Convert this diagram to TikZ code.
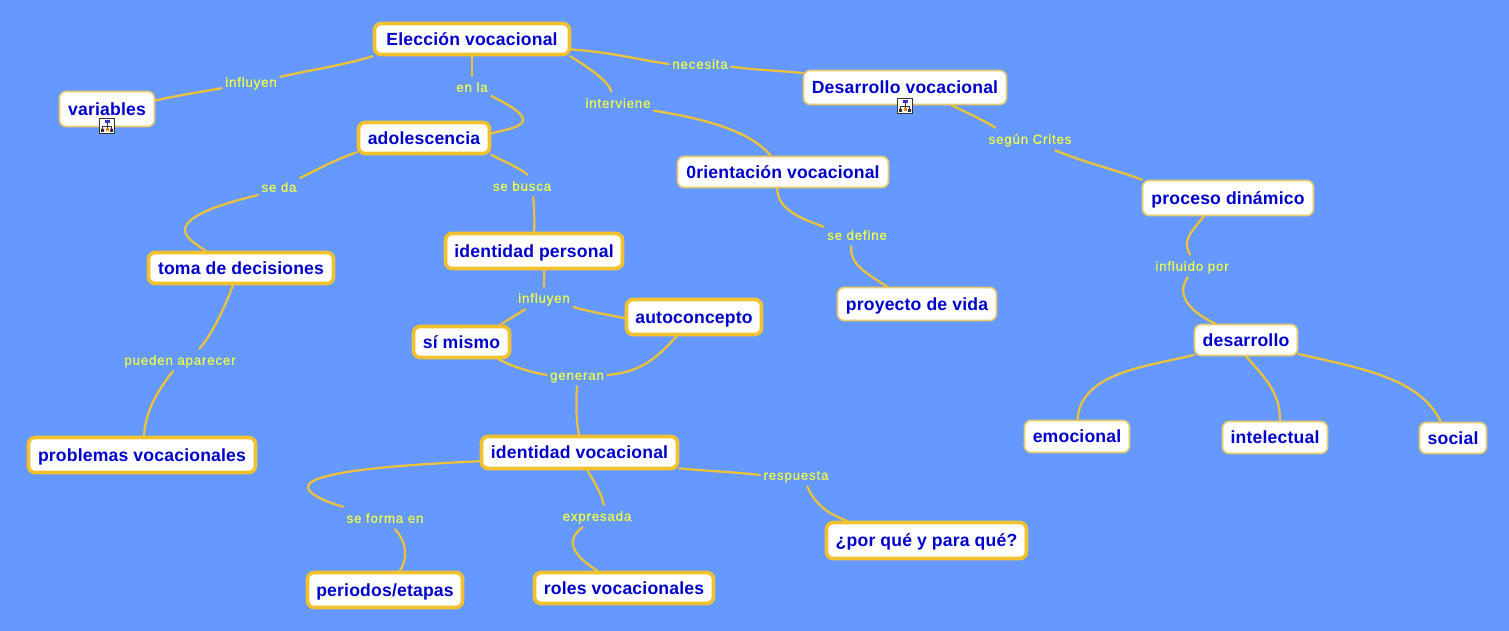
\documentclass[tikz,border=0pt]{standalone}
\usepackage{fontspec}
\setmainfont{Liberation Sans}
\newfontfamily\conceptfont[LetterSpace=1]{Liberation Sans Bold}
\newfontfamily\linkfont[LetterSpace=6,FakeBold=0.25]{Liberation Sans}
\definecolor{bgblue}{HTML}{6699FF}
\definecolor{gold}{HTML}{F2C12E}
\definecolor{palegold}{HTML}{E8CB6A}
\definecolor{linkgold}{HTML}{EBC23A}
\definecolor{inkblue}{HTML}{0000CC}
\definecolor{linkyellow}{HTML}{EEFF44}
\tikzset{
  x=0.75pt,y=-0.75pt,
  sz/.style 2 args={minimum width=#1*0.75pt,minimum height=#2*0.75pt},
  concept/.style={rectangle,rounded corners=5pt,fill=white,text=inkblue,inner sep=0pt,
    text height=9.5pt,text depth=0pt,
    font=\conceptfont\fontsize{13.2pt}{15pt}\selectfont},
  heavy/.style={concept,draw=gold,line width=2.7pt},
  light/.style={concept,draw=palegold,line width=1.2pt},
  linklabel/.style={rectangle,inner xsep=2.5pt,inner ysep=0pt,minimum height=16.5pt,text=linkyellow,
    text height=7.2pt,text depth=0pt,
    font=\linkfont\fontsize{10pt}{11pt}\selectfont},
  link/.style={draw=linkgold,line width=1.7pt,line cap=round},
  hicon/.pic={
    \draw[fill=white,draw=black!80,line width=0.7pt] (-7.5,-7.5) rectangle (7.5,7.5);
    \draw[black!80,line width=0.6pt] (0,-3) -- (0,4) (-4.5,0) -- (4.5,0) (-4.5,0) -- (-4.5,4) (4.5,0) -- (4.5,4);
    \fill[blue!60!gray] (-2.5,-5.5) rectangle (2.5,-2.5);
    \fill[black!80] (-6,3) rectangle (-3,6) (3,3) rectangle (6,6);
    \fill[orange] (-1.5,2.5) rectangle (1.5,5.5);
  }
}
\begin{document}
\begin{tikzpicture}
\useasboundingbox[fill=bgblue] (0,0) rectangle (1509,631);
% concepts
\node[heavy,sz={195}{31}] (elec) at (472,39) {Elección vocacional};
\node[light,sz={95}{35}] (vari) at (107,109) {variables};
\node[heavy,sz={131}{31}] (adol) at (424,138) {adolescencia};
\node[light,sz={203}{34}] (desa) at (905,87.5) {Desarrollo vocacional};
\node[light,sz={211}{31}] (orie) at (783,172) {0rientación vocacional};
\node[light,sz={171}{35}] (proc) at (1228,198) {proceso dinámico};
\node[heavy,sz={185}{31}] (toma) at (241,268) {toma de decisiones};
\node[heavy,sz={177}{35}] (idpe) at (534,251) {identidad personal};
\node[heavy,sz={135}{35}] (auto) at (694,317) {autoconcepto};
\node[heavy,sz={96}{31}] (simi) at (461.5,342) {sí mismo};
\node[light,sz={159}{33}] (proy) at (917,304) {proyecto de vida};
\node[light,sz={103}{31}] (desr) at (1246,340) {desarrollo};
\node[light,sz={105}{32}] (emoc) at (1077,436.5) {emocional};
\node[light,sz={105}{32}] (inte) at (1275,437.5) {intelectual};
\node[light,sz={67}{31}] (soci) at (1453,438) {social};
\node[heavy,sz={227}{35}] (prob) at (142,455) {problemas vocacionales};
\node[heavy,sz={196}{32}] (idvo) at (579.5,452.5) {identidad vocacional};
\node[heavy,sz={200}{36}] (porq) at (926.5,540.5) {¿por qué y para qué?};
\node[heavy,sz={155}{35}] (peri) at (385,590) {periodos/etapas};
\node[heavy,sz={179}{31}] (role) at (624,588) {roles vocacionales};
% icons
\pic at (107,126) {hicon};
\pic at (905,106) {hicon};
% link labels
\node[linklabel] (linf) at (251,82) {influyen};
\node[linklabel] (lenl) at (472,87) {en la};
\node[linklabel] (lint) at (618,103) {interviene};
\node[linklabel] (lnec) at (700,64) {necesita};
\node[linklabel] (lseg) at (1030,139) {según Crites};
\node[linklabel] (lflu) at (1192,266) {influido por};
\node[linklabel] (lsda) at (279,187) {se da};
\node[linklabel] (lbus) at (522,186) {se busca};
\node[linklabel] (lin2) at (544,298) {influyen};
\node[linklabel] (lgen) at (577,375) {generan};
\node[linklabel] (lsfo) at (385,518) {se forma en};
\node[linklabel] (lexp) at (597,516) {expresada};
\node[linklabel] (lres) at (796,475) {respuesta};
\node[linklabel] (lpue) at (180,360) {pueden aparecer};
\node[linklabel] (ldef) at (857,235) {se define};
% connectors
\path[link] (elec.south west) .. controls (340,66) and (310,70) .. (linf.10);
\path[link] (linf.192) .. controls (200,92) and (175,96) .. (vari.10);
\path[link] (elec.-90) -- (lenl.north);
\path[link] (lenl.-25) .. controls (505,103) and (523,112) .. (523,120) .. controls (523,127) and (505,130) .. (adol.4);
\path[link] (elec.-10.5) .. controls (585,65) and (610,82) .. (lint.121);
\path[link] (lint.-12) .. controls (700,118) and (750,130) .. (orie.127);
\path[link] (elec.-6) .. controls (610,52) and (640,60) .. (lnec.180);
\path[link] (lnec.-5) .. controls (755,70) and (785,71) .. (desa.172);
\path[link] (desa.-21) .. controls (968,113) and (985,121) .. (lseg.162);
\path[link] (lseg.-24) .. controls (1085,163) and (1120,171) .. (proc.168);
\path[link] (proc.-143) .. controls (1195,228) and (1187,235) .. (1187,244) .. controls (1187,249) and (1189,253) .. (lflu.100);
\path[link] (lflu.-110) .. controls (1178,290) and (1182,308) .. (desr.152);
\path[link] (desr.196) .. controls (1150,366) and (1080,372) .. (emoc.88);
\path[link] (desr.-90) .. controls (1265,378) and (1280,392) .. (inte.73);
\path[link] (desr.-15) .. controls (1360,368) and (1420,378) .. (soci.127);
\path[link] (adol.192) .. controls (335,160) and (320,168) .. (lsda.23);
\path[link] (lsda.201) .. controls (225,203) and (185,215) .. (185,230) .. controls (185,238) and (197,245) .. (toma.154);
\path[link] (adol.-14) .. controls (505,162) and (520,168) .. (lbus.65);
\path[link] (lbus.-45) .. controls (534,210) and (535,222) .. (idpe.north);
\path[link] (idpe.-62) -- (lin2.north);
\path[link] (lin2.211) -- (simi.24);
\path[link] (lin2.-17) .. controls (590,312) and (610,315) .. (auto.181);
\path[link] (simi.-25) .. controls (515,368) and (535,373) .. (lgen.180);
\path[link] (auto.228) .. controls (655,360) and (640,372) .. (lgen.0);
\path[link] (lgen.south) .. controls (576,400) and (576,420) .. (idvo.92);
\path[link] (idvo.185) .. controls (420,464) and (308,470) .. (308,487) .. controls (308,495) and (330,503) .. (lsfo.165);
\path[link] (lsfo.-48) .. controls (407,543) and (408,558) .. (peri.52);
\path[link] (idvo.-66) .. controls (598,488) and (603,498) .. (lexp.60);
\path[link] (lexp.218) .. controls (565,540) and (572,555) .. (role.147);
\path[link] (idvo.-9) .. controls (705,471) and (735,472) .. (lres.180);
\path[link] (lres.-45) .. controls (815,505) and (830,515) .. (porq.166);
\path[link] (toma.-115) .. controls (218,325) and (205,342) .. (lpue.30);
\path[link] (lpue.238) .. controls (150,400) and (145,420) .. (prob.84);
\path[link] (orie.-110) .. controls (778,210) and (800,218) .. (ldef.166);
\path[link] (ldef.243) .. controls (850,265) and (865,272) .. (proy.150);
\end{tikzpicture}
\end{document}
